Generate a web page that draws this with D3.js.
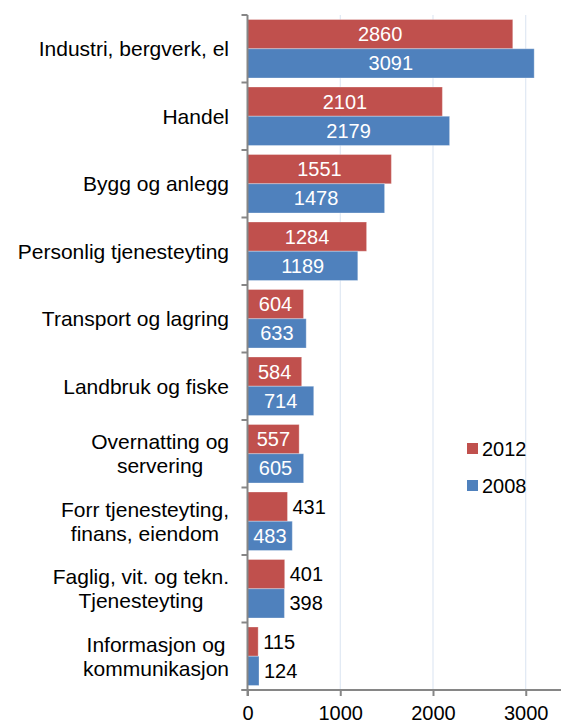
<!DOCTYPE html>
<html>
<head>
<meta charset="utf-8">
<script src="https://cdn.jsdelivr.net/npm/d3@7"></script>
<style>
  html, body { margin: 0; padding: 0; background: #fff; }
  svg { display: block; font-family: "Liberation Sans", Arial, sans-serif; }
</style>
</head>
<body>
<svg id="chart" width="561" height="722"></svg>
<script>
// ---- data ----
const categories = [
  ["Industri, bergverk, el"],
  ["Handel"],
  ["Bygg og anlegg"],
  ["Personlig tjenesteyting"],
  ["Transport og lagring"],
  ["Landbruk og fiske"],
  ["Overnatting og", "servering"],
  ["Forr tjenesteyting,", "finans, eiendom"],
  ["Faglig, vit. og tekn.", "Tjenesteyting"],
  ["Informasjon og", "kommunikasjon"]
];
const seriesNames = ["2012", "2008"];
const values2012 = [2860, 2101, 1551, 1284, 604, 584, 557, 431, 401, 115];
const values2008 = [3091, 2179, 1478, 1189, 633, 714, 605, 483, 398, 124];
const xTicks = [0, 1000, 2000, 3000];
const colors = { "2012": "#C0504D", "2008": "#4F81BD" };

(function () {
const svg = d3.select("#chart");
const x0 = 247.5, plotTop = 15, plotBottom = 690;
const x = d3.scaleLinear().domain([0, 3500]).range([x0, x0 + 3.5 * 92.75]);
const catKeys = categories.map((c, i) => i);
const y = d3.scaleBand().domain(catKeys).range([plotTop, plotBottom]).paddingInner(0).paddingOuter(0);
const ys = d3.scaleBand().domain(seriesNames).range([0, y.bandwidth()]).paddingInner(0).paddingOuter(0.154);

const seriesVals = { "2012": values2012, "2008": values2008 };

// gridlines
svg.append("g").selectAll("line").data(xTicks.filter(t => t > 0).concat([3500])).join("line")
  .attr("x1", d => x(d)).attr("x2", d => x(d))
  .attr("y1", plotTop).attr("y2", plotBottom)
  .attr("stroke", "#D9E3F1").attr("stroke-width", 1);

// bars
const groups = svg.append("g").selectAll("g").data(catKeys).join("g")
  .attr("transform", d => `translate(0,${y(d)})`);

seriesNames.forEach(s => {
  groups.append("rect")
    .attr("x", x(0))
    .attr("y", ys(s))
    .attr("width", d => x(seriesVals[s][d]) - x(0))
    .attr("height", ys.bandwidth())
    .attr("fill", colors[s])
    .attr("stroke", "rgba(255,255,255,0.3)")
    .attr("stroke-width", 1);
});

// data labels
seriesNames.forEach(s => {
  groups.append("text")
    .attr("font-size", 20)
    .attr("dy", "0.35em")
    .attr("y", ys(s) + ys.bandwidth() / 2)
    .text(d => seriesVals[s][d])
    .each(function(d) {
      const v = seriesVals[s][d];
      const w = this.getComputedTextLength();
      const barW = x(v) - x(0);
      const t = d3.select(this);
      if (w + 8 < barW) {
        t.attr("x", x(0) + barW / 2).attr("text-anchor", "middle").attr("fill", "#fff");
      } else {
        t.attr("x", x(v) + 5).attr("text-anchor", "start").attr("fill", "#000");
      }
    });
});

// y axis
const yAxisG = svg.append("g");
yAxisG.append("line").attr("x1", x0).attr("x2", x0).attr("y1", plotTop).attr("y2", plotBottom + 6)
  .attr("stroke", "#868686").attr("stroke-width", 2);
const boundaries = catKeys.map(d => y(d)).concat([plotBottom]);
yAxisG.selectAll("line.tk").data(boundaries).join("line").attr("class", "tk")
  .attr("x1", x0 - 6).attr("x2", x0).attr("y1", d => d).attr("y2", d => d)
  .attr("stroke", "#868686").attr("stroke-width", 2);

// x axis
const xAxis = d3.axisBottom(x).tickValues(xTicks).tickSize(6).tickPadding(10).tickFormat(d3.format("d"));
const xg = svg.append("g").attr("transform", `translate(0,${plotBottom})`).call(xAxis);
xg.select(".domain").attr("stroke", "#868686").attr("stroke-width", 2).attr("d", `M${x0 - 6},0H${x(3500)}`);
xg.selectAll(".tick line").attr("stroke", "#868686").attr("stroke-width", 2);
xg.selectAll(".tick text").attr("font-size", 20).attr("fill", "#000")
  .attr("font-family", "Liberation Sans, Arial, sans-serif").attr("dy", 0).attr("y", 29.5);

// category labels
const labelRight = 229;
const lineH = 24;
svg.append("g").selectAll("text").data(catKeys).join("text")
  .attr("font-size", 21)
  .attr("fill", "#000")
  .each(function(d) {
    const lines = categories[d];
    const t = d3.select(this);
    const cy = y(d) + y.bandwidth() / 2;
    const n = lines.length;
    const spans = lines.map((ln, i) => t.append("tspan")
      .attr("y", cy + (i - (n - 1) / 2) * lineH)
      .attr("dy", "0.35em")
      .text(ln));
    let maxW = 0;
    spans.forEach(sp => { maxW = Math.max(maxW, sp.node().getComputedTextLength()); });
    spans.forEach(sp => sp.attr("x", labelRight - maxW / 2).attr("text-anchor", "middle"));
  });

// legend
const legend = svg.append("g");
const legendItems = [{ s: "2012", cy: 448.5 }, { s: "2008", cy: 485.5 }];
legendItems.forEach(it => {
  legend.append("rect").attr("x", 467).attr("y", it.cy - 5.5).attr("width", 11).attr("height", 11)
    .attr("fill", colors[it.s]);
  legend.append("text").attr("x", 482).attr("y", it.cy).attr("dy", "0.35em")
    .attr("font-size", 20).attr("fill", "#000").text(it.s);
});
})();
</script>
</body>
</html>
